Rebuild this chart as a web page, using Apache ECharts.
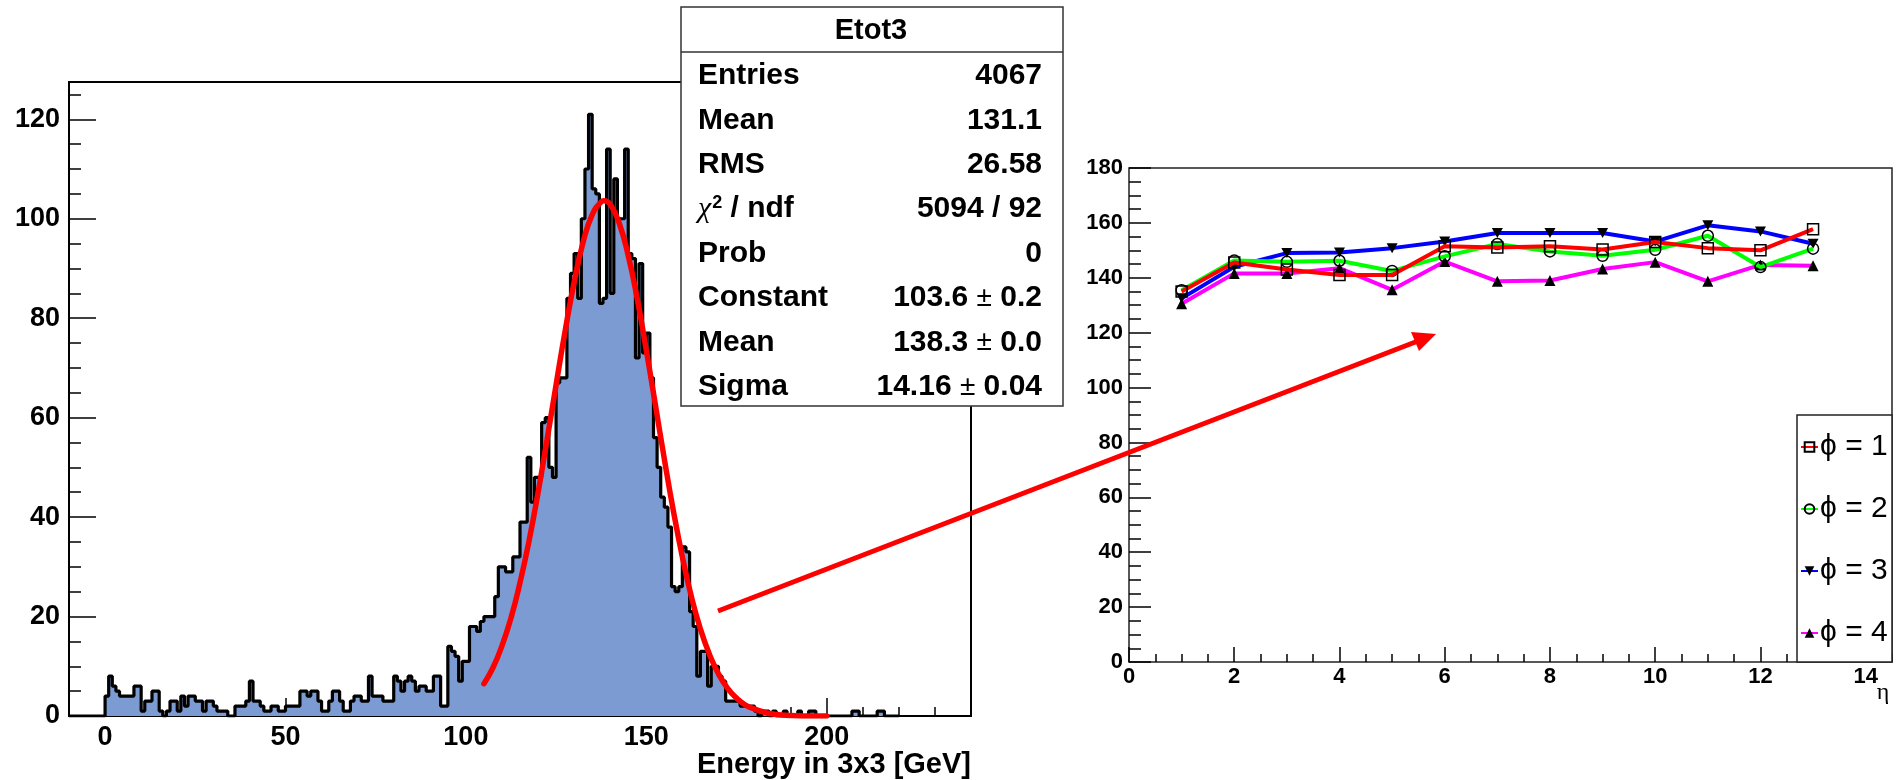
<!DOCTYPE html>
<html>
<head>
<meta charset="utf-8">
<title>Etot3</title>
<script src="https://cdn.jsdelivr.net/npm/echarts@6/dist/echarts.min.js"></script>
<style>
html, body { margin: 0; padding: 0; background: #fff; }
#chart { width: 1897px; height: 780px; }
</style>
</head>
<body>
<div id="chart"></div>
<script>
// ---- left pad: Etot3 histogram, 1 GeV bins from 0 GeV ----
var histMin = -10, histMax = 240, firstEdge = 0, binWidth = 1;
var counts = [
  4, 8, 6, 5, 4, 4, 4, 4, 6, 6,
  1, 3, 3, 5, 5, 1, 0, 1, 3, 3,
  1, 4, 2, 4, 4, 3, 3, 1, 3, 3,
  2, 1, 1, 1, 0, 0, 2, 2, 2, 3,
  7, 3, 3, 2, 1, 1, 2, 2, 1, 1,
  2, 2, 2, 2, 5, 5, 4, 5, 5, 3,
  1, 1, 3, 5, 5, 3, 1, 1, 3, 4,
  4, 3, 3, 8, 4, 4, 4, 3, 3, 3,
  8, 7, 5, 7, 8, 7, 5, 6, 6, 5,
  5, 8, 8, 2, 2, 14, 13, 12, 7, 11,
  11, 18, 18, 17, 19, 20, 20, 20, 24, 30,
  30, 29, 29, 32, 32, 39, 39, 52, 43, 48,
  48, 59, 60, 50, 48, 67, 68, 68, 84, 89,
  93, 84, 100, 110, 121, 106, 105, 83, 84, 114,
  85, 108, 100, 100, 114, 93, 92, 72, 91, 73,
  77, 68, 56, 50, 44, 42, 38, 26, 25, 26,
  34, 33, 21, 18, 8, 13, 13, 6, 10, 10,
  8, 7, 3, 3, 3, 3, 2, 2, 2, 2,
  1, 0, 1, 1, 0, 1, 0, 0, 1, 0,
  0, 0, 1, 0, 0, 1, 1, 0, 0, 0,
  0, 0, 0, 0, 0, 0, 0, 1, 1, 0,
  0, 0, 0, 0, 1, 1, 0, 0, 0, 0
];

// gaussian fit curve as drawn (energy, value)
var fitE = [105, 107.5, 110, 112.5, 115, 117.5, 120, 122.5, 125, 127.5, 130, 132.5, 135, 137.5, 138.3,
            140, 142.5, 145, 147.5, 150, 152.5, 155, 157.5, 160, 162.5, 165, 167.5, 170, 172.5, 175,
            177.5, 180, 182.5, 185, 187.5, 190, 195, 200];
var fitVal = [6.5, 9.7, 14.1, 19.7, 26.8, 35.2, 44.9, 55.6, 66.6, 77.4, 87.2, 95.3, 100.8, 103.4, 103.6,
              102.9, 99.1, 92.6, 83.9, 73.6, 62.7, 51.7, 41.3, 32.0, 24.0, 17.5, 12.4, 8.5, 5.6, 3.6,
              2.2, 1.4, 0.8, 0.4, 0.2, 0.1, 0.0, 0.0];

var statLabels = ['Entries', 'Mean', 'RMS', '{chi|χ}{sup|2} / ndf', 'Prob', 'Constant', 'Mean', 'Sigma'];
var statValues = ['4067', '131.1', '26.58', '5094 / 92', '0', '103.6 {pm|±} 0.2', '138.3 {pm|±} 0.0', '14.16 {pm|±} 0.04'];

// ---- right pad: energy vs eta for four phi rows ----
var eta = [1, 2, 3, 4, 5, 6, 7, 8, 9, 10, 11, 12, 13];
var phi1 = [135, 145.6, 143, 141, 141, 151.5, 151, 151.5, 150.3, 153, 150.8, 150, 157.7];
var phi2 = [135.5, 146.3, 145.8, 146.2, 142.5, 147.8, 152.3, 149.6, 148, 150.2, 155.3, 143.9, 150.6];
var phi3 = [132.5, 144, 149, 149.2, 150.8, 153.2, 156.3, 156.3, 156.3, 153.2, 159.1, 156.9, 152.4];
var phi4 = [130.5, 141.6, 141.6, 143.5, 135.6, 145.9, 138.7, 139, 143.2, 145.7, 138.7, 144.7, 144.4];
var phiNames = ['ϕ = 1', 'ϕ = 2', 'ϕ = 3', 'ϕ = 4'];

var histData = [[histMin, 0]];
for (var i = 0; i < counts.length; i++) {
  histData.push([firstEdge + i * binWidth, counts[i]]);
}
histData.push([firstEdge + counts.length * binWidth, 0]);

function pairs(xs, ys) {
  return xs.map(function (x, k) { return [x, ys[k]]; });
}

var FONT = 'Liberation Sans, Arial, Helvetica, sans-serif';
var black = '#000';

function tickAxis(grid, min, max, interval, len, pos) {
  return {
    gridIndex: grid, type: 'value', min: min, max: max, interval: interval, position: pos,
    axisLine: { show: false, onZero: false },
    axisTick: { inside: true, length: len, lineStyle: { color: black, width: 1.5 } },
    axisLabel: { show: false },
    splitLine: { show: false }
  };
}

var chart = echarts.init(document.getElementById('chart'));

var option = {
  animation: false,
  backgroundColor: '#fff',
  grid: [
    { left: 69, top: 82, width: 902, height: 634, show: true, borderColor: black, borderWidth: 2, backgroundColor: 'transparent' },
    { left: 1129, top: 168, width: 763, height: 494, show: true, borderColor: '#222', borderWidth: 1.5, backgroundColor: 'transparent' }
  ],
  xAxis: [
    tickAxis(0, histMin, histMax, 10, 9, 'bottom'),
    {
      gridIndex: 0, type: 'value', min: histMin, max: histMax, splitNumber: 5, position: 'bottom',
      axisLine: { show: false, onZero: false },
      axisTick: { inside: true, length: 18, lineStyle: { color: black, width: 1.5 } },
      axisLabel: { showMinLabel: false, showMaxLabel: false, margin: 8, color: black,
                   fontFamily: FONT, fontWeight: 'bold', fontSize: 27 },
      splitLine: { show: false }
    },
    tickAxis(1, 0, 14.5, 0.5, 8, 'bottom'),
    {
      gridIndex: 1, type: 'value', min: 0, max: 14.5, interval: 2, position: 'bottom',
      axisLine: { show: false, onZero: false },
      axisTick: { inside: true, length: 15, lineStyle: { color: black, width: 1.5 } },
      axisLabel: { showMaxLabel: false, margin: 4, color: black,
                   fontFamily: FONT, fontWeight: 'bold', fontSize: 22 },
      splitLine: { show: false }
    }
  ],
  yAxis: [
    tickAxis(0, 0, 127.5, 5, 12, 'left'),
    {
      gridIndex: 0, type: 'value', min: 0, max: 127.5, interval: 20, position: 'left',
      axisLine: { show: false, onZero: false },
      axisTick: { inside: true, length: 27, lineStyle: { color: black, width: 1.5 } },
      axisLabel: { showMaxLabel: false, margin: 9, color: black,
                   fontFamily: FONT, fontWeight: 'bold', fontSize: 27 },
      splitLine: { show: false }
    },
    {
      gridIndex: 1, type: 'value', min: 0, max: 180, interval: 20, position: 'left',
      axisLine: { show: false, onZero: false },
      axisTick: { inside: true, length: 22, lineStyle: { color: black, width: 1.5 } },
      minorTick: { show: true, splitNumber: 4, length: 12, lineStyle: { color: black, width: 1.5 } },
      axisLabel: { margin: 6, color: black, fontFamily: FONT, fontWeight: 'bold', fontSize: 22 },
      splitLine: { show: false }
    }
  ],
  legend: {
    data: phiNames,
    orient: 'vertical',
    left: 1800, top: 432,
    padding: 0,
    itemWidth: 17, itemHeight: 12, itemGap: 32,
    textStyle: { fontFamily: FONT, fontSize: 30, lineHeight: 30, color: black, padding: [0, 0, 0, -3] },
    z: 6
  },
  series: [
    {
      name: 'hist', type: 'line', xAxisIndex: 0, yAxisIndex: 0, step: 'end',
      data: histData, symbol: 'none',
      lineStyle: { color: black, width: 3.2 },
      areaStyle: { color: '#7b9bd2', opacity: 1 },
      z: 2
    },
    {
      name: 'fit', type: 'line', xAxisIndex: 0, yAxisIndex: 0,
      data: pairs(fitE, fitVal), symbol: 'none', smooth: true,
      lineStyle: { color: '#ff0000', width: 5.5, cap: 'round' },
      z: 3
    },
    {
      name: phiNames[3], type: 'line', xAxisIndex: 2, yAxisIndex: 2,
      data: pairs(eta, phi4), symbol: 'triangle', symbolSize: 11,
      lineStyle: { color: '#ff00ff', width: 4 }, itemStyle: { color: black }, z: 3
    },
    {
      name: phiNames[2], type: 'line', xAxisIndex: 2, yAxisIndex: 2,
      data: pairs(eta, phi3), symbol: 'path://M0,0 L10,0 L5,9 Z', symbolSize: [11, 10],
      lineStyle: { color: '#0000ff', width: 4 }, itemStyle: { color: black }, z: 4
    },
    {
      name: phiNames[1], type: 'line', xAxisIndex: 2, yAxisIndex: 2,
      data: pairs(eta, phi2), symbol: 'circle', symbolSize: 11,
      lineStyle: { color: '#00ff00', width: 4 },
      itemStyle: { color: 'rgba(0,0,0,0)', borderColor: black, borderWidth: 1.5 }, z: 5
    },
    {
      name: phiNames[0], type: 'line', xAxisIndex: 2, yAxisIndex: 2,
      data: pairs(eta, phi1), symbol: 'rect', symbolSize: 11,
      lineStyle: { color: '#ff0000', width: 4 },
      itemStyle: { color: 'rgba(0,0,0,0)', borderColor: black, borderWidth: 1.5 }, z: 6
    }
  ],
  graphic: []
};

// legend frame of the right pad
option.graphic.push({
  type: 'rect', z: 5,
  shape: { x: 1797, y: 415, width: 95, height: 247 },
  style: { fill: '#fff', stroke: '#222', lineWidth: 1.5 }
});

// stats box
var box = { x: 681, y: 7, w: 382, h: 399 };
option.graphic.push({
  type: 'rect', z: 10,
  shape: { x: box.x, y: box.y, width: box.w, height: box.h },
  style: { fill: '#fff', stroke: '#333', lineWidth: 1.5 }
});
option.graphic.push({
  type: 'line', z: 11,
  shape: { x1: box.x, y1: 52, x2: box.x + box.w, y2: 52 },
  style: { stroke: '#333', lineWidth: 1.5 }
});
option.graphic.push({
  type: 'text', z: 11, x: 871, y: 31,
  style: { text: 'Etot3', fill: black, font: 'bold 29px ' + FONT, align: 'center', verticalAlign: 'middle' }
});
var statRich = {
  pm: { font: '28px ' + FONT, fill: black },
  chi: { font: 'italic 30px Liberation Serif, serif', fill: black },
  sup: { font: 'bold 18px ' + FONT, fill: black, verticalAlign: 'top', padding: [0, 0, 10, 1] }
};
statLabels.forEach(function (lab, k) {
  var yy = 76 + k * 44.4;
  option.graphic.push({
    type: 'text', z: 11, x: 698, y: yy,
    style: { text: lab, fill: black, font: 'bold 30px ' + FONT, align: 'left', verticalAlign: 'middle', rich: statRich }
  });
  option.graphic.push({
    type: 'text', z: 11, x: 1042, y: yy,
    style: { text: statValues[k], fill: black, font: 'bold 30px ' + FONT, align: 'right', verticalAlign: 'middle', rich: statRich }
  });
});

// axis titles
option.graphic.push({
  type: 'text', z: 11, x: 971, y: 765,
  style: { text: 'Energy in 3x3 [GeV]', fill: black, font: 'bold 29px ' + FONT, align: 'right', verticalAlign: 'middle' }
});
option.graphic.push({
  type: 'text', z: 11, x: 1883, y: 693,
  style: { text: 'η', fill: black, font: '24px Liberation Serif, serif', align: 'center', verticalAlign: 'middle' }
});

// red arrow from the histogram tail to the right pad
option.graphic.push({
  type: 'line', z: 20,
  shape: { x1: 718, y1: 611, x2: 1418, y2: 341 },
  style: { stroke: '#ff0000', lineWidth: 5 }
});
option.graphic.push({
  type: 'polygon', z: 20,
  shape: { points: [[1436, 334], [1419, 351], [1411, 332]] },
  style: { fill: '#ff0000' }
});

chart.setOption(option);
</script>
</body>
</html>
